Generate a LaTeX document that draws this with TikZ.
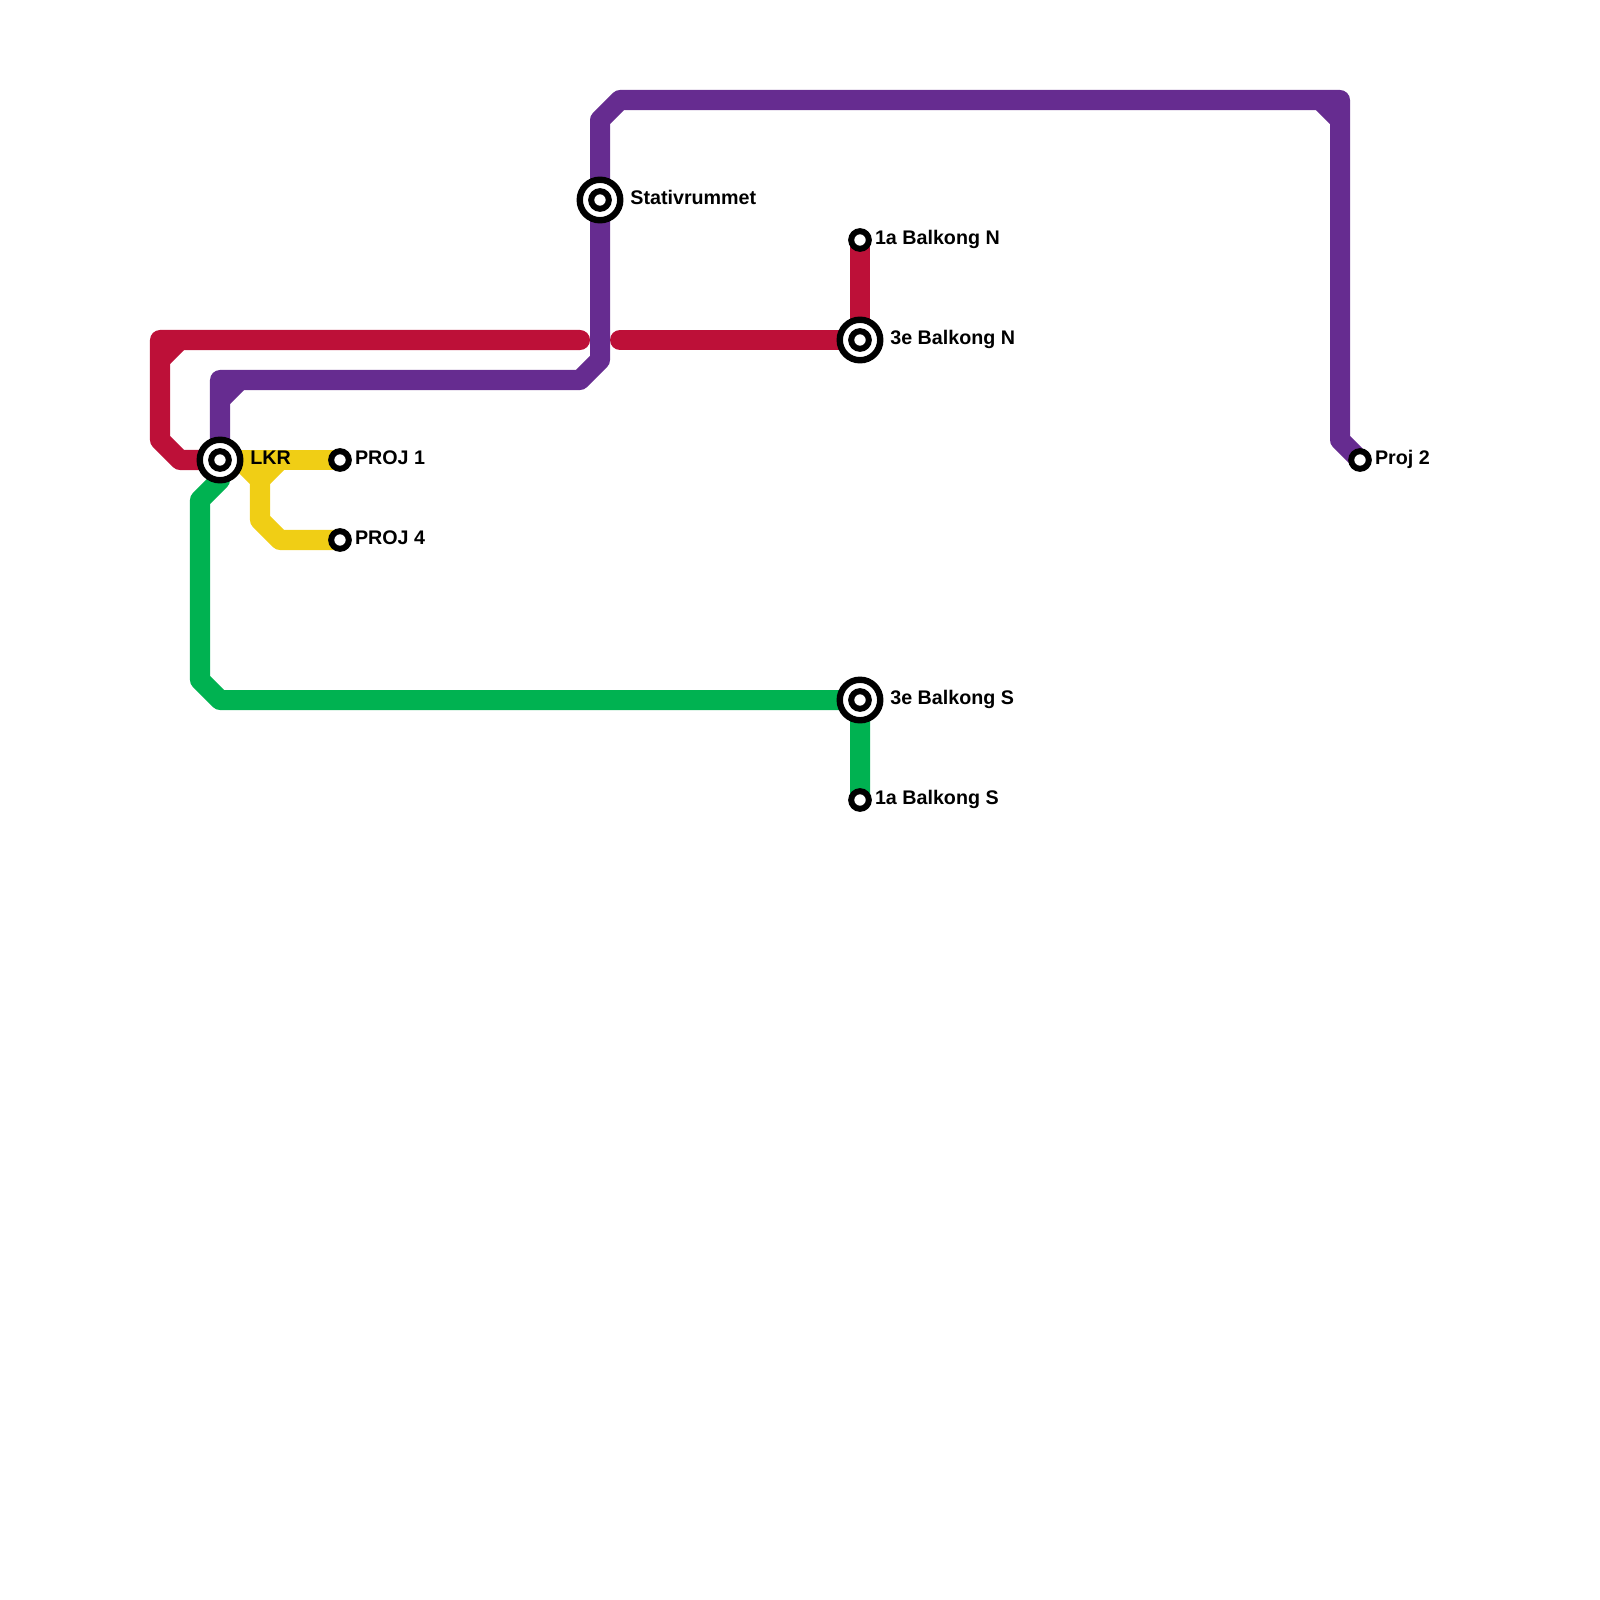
\documentclass[tikz,border=0pt]{standalone}
\usepackage{fontspec}
\usepackage{xcolor}
\setmainfont{Liberation Sans}
\usetikzlibrary{positioning, calc, backgrounds}
\definecolor{linered}{HTML}{BD1038}
\definecolor{linepurple}{HTML}{662C90}
\definecolor{lineyellow}{HTML}{F0CE15}
\definecolor{linegreen}{HTML}{00B251}

\tikzset{
  metroline/.style={line width=0.2cm, line join=round},
  station/.style={circle, draw=black, fill=white, line width=0.06cm, minimum size=0.176cm, inner sep=0pt},
  hub/.style={circle, draw=black, fill=white, line width=0.064cm, minimum size=0.405cm, inner sep=0pt},
  stationlabel/.style={inner sep=0pt, yshift=0.027cm, text height=0.135cm, text depth=0pt,
        font=\fontsize{5.6}{6}\selectfont\bfseries}
}

\begin{document}
\begin{tikzpicture}[x=0.01cm, y=-0.01cm]
  \useasboundingbox (0,0) rectangle (1600,1600);

  % interchanges
  \node[hub] (lkr) at (220,460) {};
  \node[station] (lkrdot) at (lkr) {};
  \node[hub] (stativ) at (600,200) {};
  \node[station] (stativdot) at (stativ) {};
  \node[hub] (north3) at (860,340) {};
  \node[station] (north3dot) at (north3) {};
  \node[hub] (south3) at (860,700) {};
  \node[station] (south3dot) at (south3) {};

  % end stations
  \node[station] (proj1) at (340,460) {};
  \node[station] (proj4) at (340,540) {};
  \node[station] (proj2) at (1360,460) {};
  \node[station] (north1) at (860,240) {};
  \node[station] (south1) at (860,800) {};

  \begin{scope}[on background layer]
    % red
    \draw[metroline, linered, line cap=round] (lkr.center) -- ++(-40,0) -- ++(-20,-20) -- ++(0,-100)
          coordinate (redcorner) -- ++(420,0);
    \draw[metroline, linered] ($(redcorner)+(20,0)$) -- ++(-20,20);
    \draw[metroline, linered, line cap=round] (north3.center) -- ++(-240,0);
    \draw[metroline, linered] (north3.center) -- (north1.center);

    % purple
    \draw[metroline, linepurple] (lkr.center) -- ++(0,-80) coordinate (purplecorner) -- ++(360,0) -- ++(20,-20)
          -- (stativ.center) -- ++(0,-80) -- ++(20,-20) -- ++(720,0) coordinate (purpletop) -- ++(0,340) -- (proj2.center);
    \draw[metroline, linepurple] ($(purplecorner)+(20,0)$) -- ++(-20,20);
    \draw[metroline, linepurple] ($(purpletop)+(-20,0)$) -- ++(20,20);

    % yellow
    \draw[metroline, lineyellow] (lkr.center) -- (proj1.center);
    \draw[metroline, lineyellow] ($(lkr.center)+(20,0)$) -- ++(20,20) coordinate (yellowsplit) -- ++(0,40) -- ++(20,20) -- (proj4.center);
    \draw[metroline, lineyellow] (yellowsplit) -- ++(20,-20);

    % green
    \draw[metroline, linegreen] (lkr.center) -- ++(0,20) -- ++(-20,20) -- ++(0,180) -- ++(20,20)
          -- (south3.center) -- (south1.center);
  \end{scope}

  \node[stationlabel, right=0.062cm of lkr] (lkrlabel) {LKR};
  \node[stationlabel, right=0.062cm of stativ] (stativlabel) {Stativrummet};
  \node[stationlabel, right=0.062cm of north3] (north3label) {3e Balkong N};
  \node[stationlabel, right=0.062cm of south3] (south3label) {3e Balkong S};
  \node[stationlabel, right=0.025cm of proj1] (proj1label) {PROJ 1};
  \node[stationlabel, right=0.025cm of proj4] (proj4label) {PROJ 4};
  \node[stationlabel, right=0.025cm of proj2] (proj2label) {Proj 2};
  \node[stationlabel, right=0.025cm of north1] (north1label) {1a Balkong N};
  \node[stationlabel, right=0.025cm of south1] (south1label) {1a Balkong S};
\end{tikzpicture}
\end{document}
